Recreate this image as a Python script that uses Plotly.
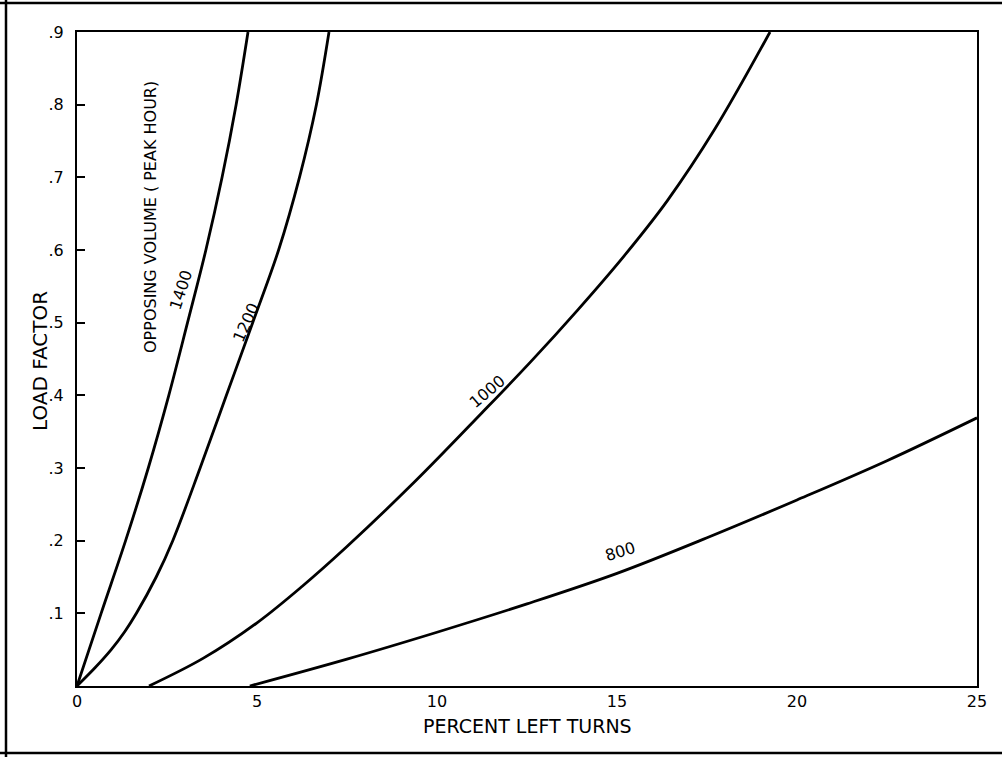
import plotly.graph_objects as go

# Opposing volume 1400 (percent left turns vs load factor)
x_1400 = [0, 0.67, 1.35, 1.98, 2.55, 3.07, 3.58, 4.03, 4.42, 4.75]
y_1400 = [0, 0.1, 0.2, 0.3, 0.4, 0.5, 0.6, 0.7, 0.8, 0.9]

# Opposing volume 1200
x_1200 = [0, 0.5, 0.95, 1.33, 1.65, 2.2, 2.66, 3.42, 4.15, 4.88, 5.6, 6.18, 6.65, 7.0]
y_1200 = [0, 0.025, 0.05, 0.075, 0.1, 0.15, 0.2, 0.3, 0.4, 0.5, 0.6, 0.7, 0.8, 0.9]

# Opposing volume 1000
x_1000 = [2.0, 3.5, 5.0, 6.25, 7.5, 9.4, 11.25, 12.6, 13.9, 15.2, 16.4, 17.7, 19.25]
y_1000 = [0.0, 0.038, 0.087, 0.137, 0.192, 0.282, 0.376, 0.446, 0.517, 0.592, 0.668, 0.765, 0.9]

# Opposing volume 800
x_800 = [4.8, 7.5, 10.0, 12.5, 15.0, 17.5, 20.0, 22.5, 25.0]
y_800 = [0.0, 0.037, 0.074, 0.113, 0.155, 0.204, 0.256, 0.31, 0.369]

y_tickvals = [0.1, 0.2, 0.3, 0.4, 0.5, 0.6, 0.7, 0.8, 0.9]
y_ticktext = [".1", ".2", ".3", ".4", ".5", ".6", ".7", ".8", ".9"]
x_tickvals = [0, 5, 10, 15, 20, 25]
x_ticktext = ["0", "5", "10", "15", "20", "25"]

FONT = "DejaVu Sans"
LW = 2.8

fig = go.Figure()
for xs, ys in [(x_1400, y_1400), (x_1200, y_1200), (x_1000, y_1000), (x_800, y_800)]:
    fig.add_trace(go.Scatter(x=xs, y=ys, mode="lines",
                             line=dict(color="black", width=LW, shape="spline", smoothing=1.0),
                             showlegend=False, hoverinfo="skip", cliponaxis=True))

W, H = 1002, 757
L, R, T, B = 77, 25, 32, 71
pw, ph = W - L - R, H - T - B

def px(xp):
    return (xp - L) / pw

def py(yp):
    return (H - B - yp) / ph

fig.update_layout(
    width=W, height=H,
    margin=dict(l=L, r=R, t=T, b=B, pad=0),
    paper_bgcolor="white", plot_bgcolor="white",
    font=dict(family=FONT, color="black", size=16),
    xaxis=dict(range=[0, 25], tickvals=x_tickvals, ticktext=x_ticktext,
               showgrid=False, zeroline=False, showline=True, mirror=True,
               linecolor="black", linewidth=2, ticks="", ticklabelstandoff=0,
               tickfont=dict(size=16, family=FONT)),
    yaxis=dict(range=[0, 0.9], tickvals=y_tickvals, ticktext=y_ticktext,
               showgrid=False, zeroline=False, showline=True, mirror=True,
               linecolor="black", linewidth=2, ticks="inside", ticklen=8,
               tickwidth=1.5, tickcolor="black", ticklabelstandoff=8,
               tickfont=dict(size=16, family=FONT)),
)

# Axis titles as annotations
fig.add_annotation(x=0.5, y=py(726), xref="paper", yref="paper", text="PERCENT LEFT TURNS",
                   showarrow=False, font=dict(size=19, family=FONT), xanchor="center", yanchor="middle")
fig.add_annotation(x=px(40), y=py(361), xref="paper", yref="paper", text="LOAD FACTOR",
                   showarrow=False, textangle=-90, font=dict(size=20, family=FONT),
                   xanchor="center", yanchor="middle")
fig.add_annotation(x=px(150), y=py(217), xref="paper", yref="paper",
                   text="OPPOSING VOLUME ( PEAK HOUR)", showarrow=False, textangle=-90,
                   font=dict(size=16, family=FONT), xanchor="center", yanchor="middle")

# Curve labels
labels = [("1400", 2.9, 0.545, -72), ("1200", 4.7, 0.5, -66),
          ("1000", 11.4, 0.405, -40), ("800", 15.1, 0.185, -17)]
for txt, lx, ly, ang in labels:
    fig.add_annotation(x=lx, y=ly, text=txt, showarrow=False, textangle=ang,
                       font=dict(size=16, family=FONT), xanchor="center", yanchor="middle")

# Outer page border lines
fig.add_shape(type="line", xref="paper", yref="paper", x0=px(6), x1=px(6), y0=py(0), y1=py(757),
              line=dict(color="black", width=2.5))
fig.add_shape(type="line", xref="paper", yref="paper", x0=px(0), x1=px(1002), y0=py(3), y1=py(3),
              line=dict(color="black", width=2.5))
fig.add_shape(type="line", xref="paper", yref="paper", x0=px(0), x1=px(1002), y0=py(753), y1=py(753),
              line=dict(color="black", width=2.5))

fig.write_html("out.html")
